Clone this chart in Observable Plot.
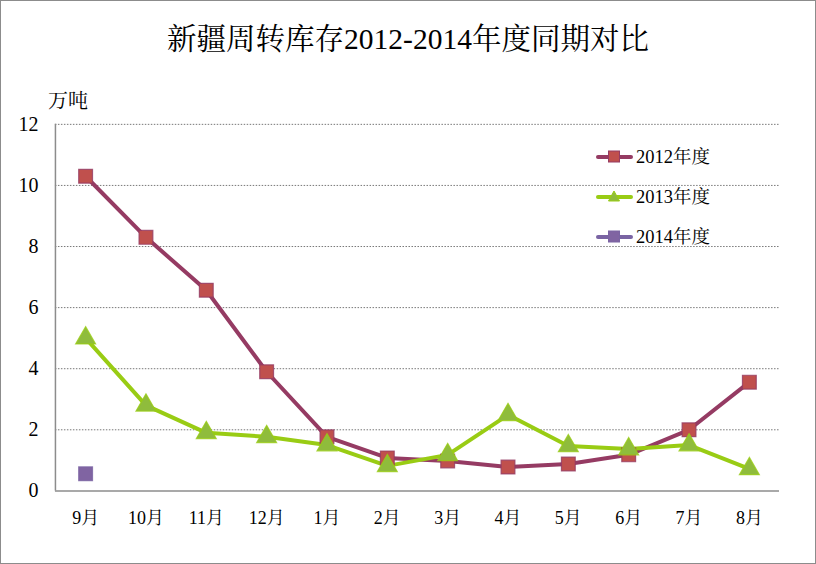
<!DOCTYPE html>
<html><head><meta charset="utf-8">
<script src="https://cdn.jsdelivr.net/npm/d3@7"></script>
<script src="https://cdn.jsdelivr.net/npm/@observablehq/plot@0.6"></script>
<style>
html,body{margin:0;padding:0;background:#fff;}
#wrap{position:relative;width:816px;height:564px;box-sizing:border-box;border:1px solid #8c8c8c;overflow:hidden;font-family:"Liberation Serif","Noto Serif CJK SC",serif;}
#title{position:absolute;left:0;right:0;top:14px;text-align:center;font-size:29.5px;color:#000;white-space:nowrap;}
#unit{position:absolute;left:47px;top:84px;font-size:20px;color:#000;font-family:"Noto Serif CJK SC",serif;}
#legend{position:absolute;left:595px;top:144px;font-size:18.5px;}
#legend div{height:40px;display:flex;align-items:flex-start;}
#legend span{line-height:24px;}
#chart{position:absolute;left:-1px;top:-1px;}
#chart svg text{font-family:"Liberation Serif","Noto Serif CJK SC",serif;}
</style></head>
<body>
<div id="wrap">
<div id="chart"></div>
<div id="title">新疆周转库存2012-2014年度同期对比</div>
<div id="unit">万吨</div>
<div id="legend"></div>
</div>
<script>
const months = ["9月","10月","11月","12月","1月","2月","3月","4月","5月","6月","7月","8月"];
const series = ["2012年度","2013年度","2014年度"];
const v2012 = [10.3, 8.3, 6.57, 3.9, 1.77, 1.08, 0.98, 0.78, 0.88, 1.18, 2.0, 3.56];
const v2013 = [5.0, 2.8, 1.9, 1.77, 1.5, 0.82, 1.18, 2.49, 1.47, 1.37, 1.5, 0.72];
const v2014 = [0.56];
const yTicks = [0, 2, 4, 6, 8, 10, 12];

const lineColors = {"2012年度":"#953b63","2013年度":"#99cc14","2014年度":"#7a64a3"};
const fillColors = {"2012年度":"#c0504d","2013年度":"#8fbc3c","2014年度":"#8064a2"};
const symbols = {"2012年度":"square","2013年度":"triangle","2014年度":"square"};

const data = [];
[v2012, v2013, v2014].forEach((arr, i) => arr.forEach((v, j) => data.push({series: series[i], month: months[j], value: v})));

const W = 816, H = 564, mL = 55, mR = 36, mT = 124, mB = 73;
const step = (W - mL - mR) / months.length;

const chart = Plot.plot({
  width: W, height: H,
  marginTop: mT, marginBottom: mB, marginLeft: mL, marginRight: mR,
  style: {fontFamily: '"Liberation Serif","Noto Serif CJK SC",serif', fontSize: "20px", color: "#000", background: "transparent"},
  x: {type: "band", domain: months, padding: 0, round: false, label: null},
  y: {domain: [0, 12], label: null},
  marks: [
    Plot.gridY(yTicks.filter(d => d > 0), {stroke: "#777", strokeOpacity: 1, strokeWidth: 1, strokeDasharray: "1.5,1.5"}),
    Plot.ruleX([months[0]], {x: d => d, stroke: "#8c8c8c", strokeWidth: 1.5, dx: -step / 2}),
    Plot.ruleY([0], {stroke: "#8c8c8c", strokeWidth: 1.5}),
    Plot.axisY({ticks: yTicks, tickSize: 0, tickPadding: 17, fontSize: 20, label: null}),
    Plot.axisX({tickSize: 0, tickPadding: 20, fontSize: 18, label: null}),
    ...series.slice(0, 2).map(s => Plot.line(data.filter(d => d.series === s), {x: "month", y: "value", stroke: lineColors[s], strokeWidth: 4, curve: "linear"})),
    ...series.map(s => Plot.dot(data.filter(d => d.series === s), {x: "month", y: "value", symbol: symbols[s], r: symbols[s] === "square" ? 7.8 : 7.4, fill: fillColors[s], stroke: s === "2013年度" ? "#99cc14" : lineColors[s], strokeWidth: 1.2, strokeOpacity: 0.8}))
  ]
});
document.getElementById("chart").appendChild(chart);

const leg = document.getElementById("legend");
series.forEach(s => {
  const row = document.createElement("div");
  const sym = symbols[s] === "square"
    ? `<rect x="12.5" y="6" width="11" height="11" fill="${fillColors[s]}" stroke="${lineColors[s]}" stroke-width="1"/>`
    : `<path d="M18,6 L23.5,16 L12.5,16 Z" fill="${fillColors[s]}" stroke="${lineColors[s]}" stroke-width="1"/>`;
  row.innerHTML = `<svg width="40" height="24"><line x1="2" x2="35" y1="12" y2="12" stroke="${lineColors[s]}" stroke-width="4" stroke-linecap="round"/>${sym}</svg><span>${s}</span>`;
  leg.appendChild(row);
});
</script>
</body></html>
